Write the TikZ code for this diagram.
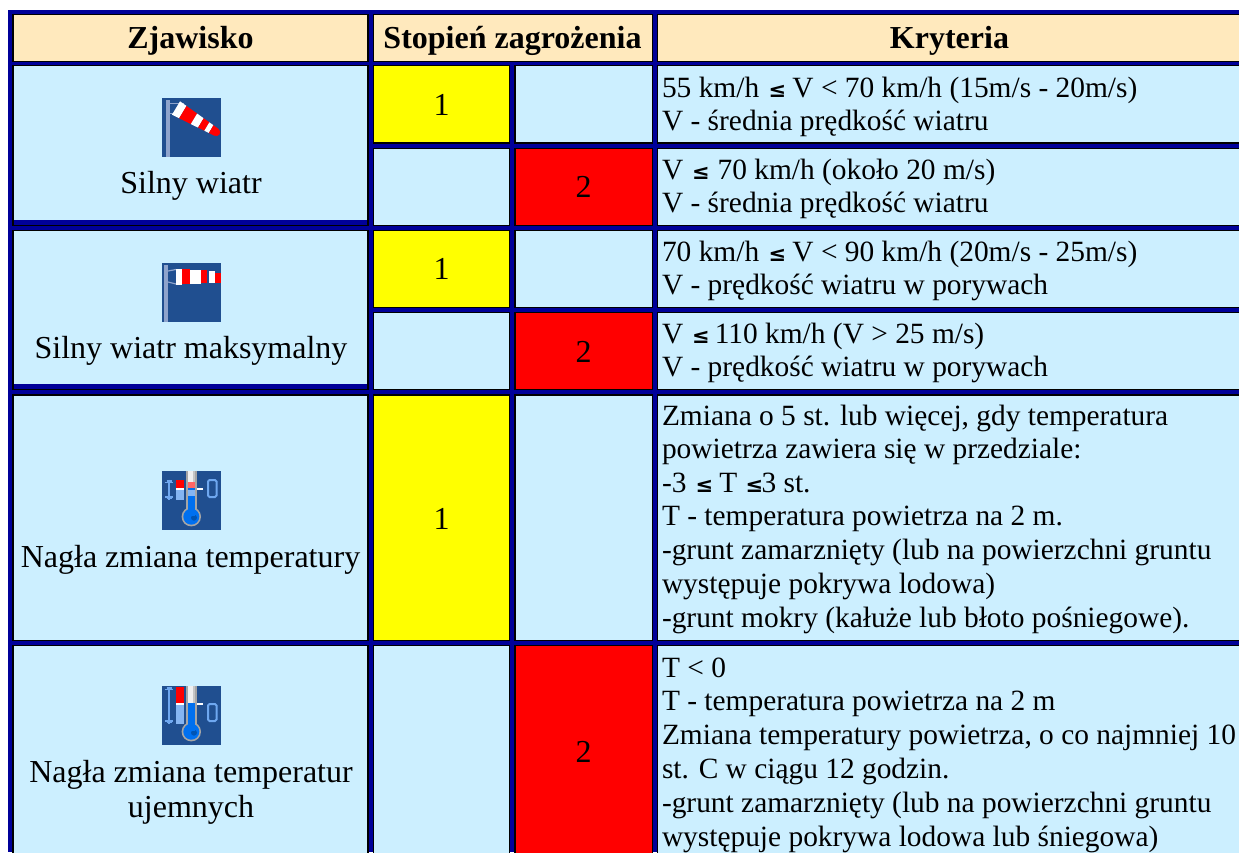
\documentclass[tikz,border=0pt]{standalone}
\usepackage{fontspec}
\setmainfont{Liberation Serif}
\newfontfamily\lefont{DejaVu Sans}
\definecolor{frameblue}{HTML}{000099}
\definecolor{cellb}{HTML}{CCEFFF}
\definecolor{headc}{HTML}{FFE9BD}
\definecolor{ic}{HTML}{204F90}
\definecolor{icl}{HTML}{6FA8F0}
\definecolor{icb}{HTML}{0070F0}
\definecolor{pole}{HTML}{8FA4CC}
\definecolor{yel}{HTML}{FFFF00}
\definecolor{redc}{HTML}{FF0000}
\newcommand{\LE}{{\lefont\bfseries\fontsize{21}{21}\selectfont ≤}}
\tikzset{x=1pt,y=-1pt,
 cellbox/.style={draw=black,line width=1.5pt},
 lab/.style={inner sep=0pt,outer sep=0pt,font=\fontsize{32}{32}\selectfont,anchor=base,text=black},
 head/.style={lab,font=\fontsize{32}{32}\selectfont\bfseries},
 crit/.style={lab,anchor=base west,font=\fontsize{29.4}{29.4}\selectfont},
 thermline/.style={icl,line width=2pt}}
\newcommand{\cellrect}[5]{\filldraw[cellbox,fill=#5] (#1,#2) rectangle (#3,#4);}
\newcommand{\thermo}[6]{%
 \fill[ic] (162,#1) rectangle (221,#1+58.5);
 \draw[thermline,line width=1.6pt] (169,#2)--(169,#3);
 \draw[thermline,line width=1.6pt] (165,#2+3)--(173,#2+3) (165,#3-3)--(173,#3-3) (166.5,#2+1.5)--(171.5,#2+1.5) (166.5,#3-1.5)--(171.5,#3-1.5);
 \fill[redc] (176,#2) rectangle (184,#4);
 \fill[white] (176,#4) rectangle (184,#4+2.4);
 \fill[icl!85!white] (176,#4+2.4) rectangle (184,#3);
 \fill[gray!70] (186,#1) rectangle (197,#6);
 \fill[white!88!gray] (188,#1) rectangle (193,#6);
 \fill[gray!45] (193,#1) rectangle (195,#6);
 \fill[gray!70] (191.3,#6) circle (9.7);
 \fill[icb] (191.3,#6) circle (8);
 \fill[icb!75!black] (194,#6+1) circle (3);
 \fill[white] (197,#4) rectangle (203,#4+2.4);
 \draw[thermline,rounded corners=1.5pt] (208,#3-20) rectangle (216.5,#3-3);
}
\newcommand{\sockband}[3]{\fill[#1] (#2,{-(7.8-#2*0.08)}) -- (#3,{-(7.8-#3*0.08)}) -- (#3,{7.8-#3*0.08}) -- (#2,{7.8-#2*0.08}) -- cycle;}
\begin{document}
\begin{tikzpicture}
\useasboundingbox (0,0) rectangle (1239,852);
\fill[white] (0,0) rectangle (1239,852);
\fill[frameblue] (8,10) rectangle (1239,852);
% header
\cellrect{13.2}{14.5}{368}{61.5}{headc}
\cellrect{373.5}{14.5}{652.5}{61.5}{headc}
\cellrect{657.5}{14.5}{1245}{61.5}{headc}
% first column
\cellrect{13.2}{65.5}{368}{225.5}{cellb}
\fill[frameblue] (14,220) rectangle (367.2,224.7);
\cellrect{13.2}{230.5}{368}{389.5}{cellb}
\fill[frameblue] (14,384) rectangle (367.2,388.7);
\cellrect{13.2}{395}{368}{640.5}{cellb}
\cellrect{13.2}{645.5}{368}{860}{cellb}
% second column
\cellrect{373.5}{65.5}{509.5}{143}{yel}
\cellrect{515.2}{65.5}{652.5}{143}{cellb}
\cellrect{373.5}{148.5}{509.5}{225.5}{cellb}
\cellrect{515.2}{148.5}{652.5}{225.5}{redc}
\cellrect{373.5}{230.5}{509.5}{307.5}{yel}
\cellrect{515.2}{230.5}{652.5}{307.5}{cellb}
\cellrect{373.5}{312.5}{509.5}{389.5}{cellb}
\cellrect{515.2}{312.5}{652.5}{389.5}{redc}
\cellrect{373.5}{395}{509.5}{640.5}{yel}
\cellrect{515.2}{395}{652.5}{640.5}{cellb}
\cellrect{373.5}{645.5}{509.5}{860}{cellb}
\cellrect{515.2}{645.5}{652.5}{860}{redc}
% third column
\cellrect{657.5}{65.5}{1245}{143}{cellb}
\cellrect{657.5}{148.5}{1245}{225.5}{cellb}
\cellrect{657.5}{230.5}{1245}{307.5}{cellb}
\cellrect{657.5}{312.5}{1245}{389.5}{cellb}
\cellrect{657.5}{395}{1245}{640.5}{cellb}
\cellrect{657.5}{645.5}{1245}{860}{cellb}
% windsock icon 1
\fill[ic] (162,98) rectangle (221,157);
\fill[pole] (166,100) rectangle (170,157);
\draw[pole,line width=1pt] (170,103)--(184,103) (170,113)--(175,113);
\begin{scope}[shift={(176,108)},rotate=-31]
\sockband{white}{0}{8}
\sockband{redc}{8}{21}
\sockband{white}{21}{29}
\sockband{redc}{29}{36}
\sockband{white}{36}{41}
\sockband{redc}{41}{47}
\fill[redc] (47,0) circle (3.9);
\end{scope}
% windsock icon 2
\fill[ic] (162,263) rectangle (221,322);
\fill[pole] (164,265) rectangle (168,322);
\draw[pole,line width=1.2pt] (168,271)--(176,269.5) (168,282)--(176,284);
\fill[white] (176,269) rectangle (182,284.5);
\fill[redc] (182,269) rectangle (190,284);
\fill[white] (190,270) rectangle (201,283.5);
\fill[redc] (201,270) rectangle (207,283);
\fill[white] (209,271) rectangle (215,283);
\fill[redc] (215,273) rectangle (221,283);
% thermometer icons
\thermo{471}{479.5}{500}{488}{492}{516.7}
\fill[icb] (188.2,488) rectangle (194.8,516);
\fill[redc!60!white] (188.2,482) rectangle (194.8,488);
\fill[icl!85!white] (188.2,490) rectangle (194.8,496);
\fill[white] (197,488) rectangle (203,490.4);
\thermo{686}{686.5}{724}{703}{703}{731.7}
\fill[icb] (188.2,703) rectangle (194.8,731);
\fill[white] (197,703) rectangle (203,705.4);
% header text
\node[head] (h1) at (190.5,48) {Zjawisko};
\node[head] (h2) at (512.5,48) {Stopień zagrożenia};
\node[head] (h3) at (949.5,48) {Kryteria};
% first column text
\node[lab] (p1) at (191,193) {Silny wiatr};
\node[lab] (p2) at (191,358) {Silny wiatr maksymalny};
\node[lab] (p3) at (190.5,567) {Nagła zmiana temperatury};
\node[lab] (p4a) at (191,782) {Nagła zmiana temperatur};
\node[lab] (p4b) at (191,817) {ujemnych};
% degrees
\node[lab] (d1) at (441.5,115) {1};
\node[lab] (d2) at (583.5,197) {2};
\node[lab] (d3) at (441.5,279) {1};
\node[lab] (d4) at (583.5,362) {2};
\node[lab] (d5) at (441.5,529) {1};
\node[lab] (d6) at (583.5,762) {2};
% criteria
\node[crit] (c1a) at (662,97) {55 km/h\hspace{9.5pt}\LE\hspace{6.2pt}V < 70 km/h (15m/s - 20m/s)};
\node[crit] (c1b) at (662,130) {V - średnia prędkość wiatru};
\node[crit] (c2a) at (662,179) {V\hspace{8.8pt}\LE\hspace{8pt}70 km/h (około 20 m/s)};
\node[crit] (c2b) at (662,212) {V - średnia prędkość wiatru};
\node[crit] (c3a) at (662,261) {70 km/h\hspace{9.5pt}\LE\hspace{6.2pt}V < 90 km/h (20m/s - 25m/s)};
\node[crit] (c3b) at (662,294) {V - prędkość wiatru w porywach};
\node[crit] (c4a) at (662,343) {V\hspace{8.8pt}\LE\hspace{5.2pt}110 km/h (V > 25 m/s)};
\node[crit] (c4b) at (662,376) {V - prędkość wiatru w porywach};
\node[crit] (c5a) at (662,425) {Zmiana o 5 st. lub więcej, gdy temperatura};
\node[crit] (c5b) at (662,458.5) {powietrza zawiera się w przedziale:};
\node[crit] (c5c) at (662,492) {-3\hspace{9.2pt}\LE\hspace{6.2pt}T\hspace{8.2pt}\LE\hspace{-1.7pt}3 st.};
\node[crit] (c5d) at (662,525) {T - temperatura powietrza na 2 m.};
\node[crit] (c5e) at (662,559) {-grunt zamarznięty (lub na powierzchni gruntu};
\node[crit] (c5f) at (662,593) {występuje pokrywa lodowa)};
\node[crit] (c5g) at (662,627) {-grunt mokry (kałuże lub błoto pośniegowe).};
\node[crit] (c6a) at (662,677) {T < 0};
\node[crit] (c6b) at (662,710.5) {T - temperatura powietrza na 2 m};
\node[crit] (c6c) at (662,744) {Zmiana temperatury powietrza, o co najmniej 10};
\node[crit] (c6d) at (662,778) {st. C w ciągu 12 godzin.};
\node[crit] (c6e) at (662,812) {-grunt zamarznięty (lub na powierzchni gruntu};
\node[crit] (c6f) at (662,846) {występuje pokrywa lodowa lub śniegowa)};
\end{tikzpicture}
\end{document}
